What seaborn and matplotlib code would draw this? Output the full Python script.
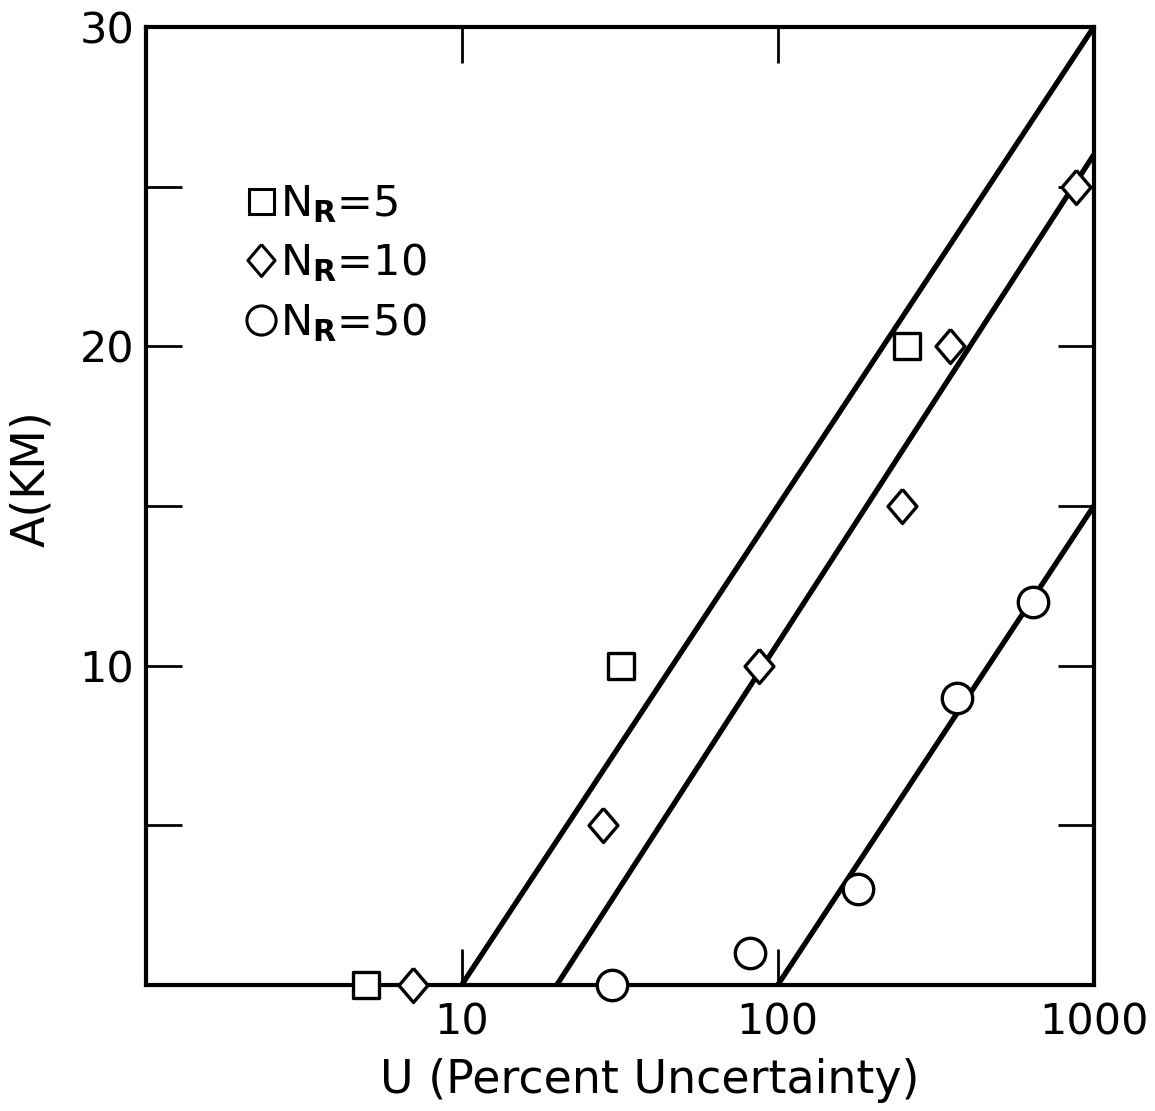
import numpy as np
import pandas as pd
import matplotlib
matplotlib.use("Agg")
import matplotlib.pyplot as plt
from matplotlib.lines import Line2D
import seaborn as sns

# Observed points: percent uncertainty U vs. distance A (km) for each N_R
u_nr5 = [5, 32, 256]
a_nr5 = [0, 10, 20]
u_nr10 = [7, 28, 87, 248, 350, 880]
a_nr10 = [0, 5, 10, 15, 20, 25]
u_nr50 = [30, 82, 180, 370, 640]
a_nr50 = [0, 1, 3, 9, 12]

# Fitted lines: A = 0 at u_start, rising to a_end at U = 1000
fit_groups = ["5", "10", "50"]
fit_u_start = [10, 20, 100]
fit_u_end = [1000, 1000, 1000]
fit_a_end = [30, 26, 15]

x_ticks = [10, 100, 1000]
x_tick_labels = ["10", "100", "1000"]
y_ticks = [5, 10, 15, 20, 25, 30]
y_tick_labels = ["", "10", "", "20", "", "30"]

sns.set_style("ticks")
plt.rcParams["font.family"] = ["DejaVu Sans"]
plt.rcParams.update({
    "text.color": "black",
    "axes.labelcolor": "black",
    "xtick.color": "black",
    "ytick.color": "black",
    "xtick.labelcolor": "black",
    "ytick.labelcolor": "black",
})

points = pd.DataFrame({
    "U": u_nr5 + u_nr10 + u_nr50,
    "A": a_nr5 + a_nr10 + a_nr50,
    "NR": ["5"] * len(u_nr5) + ["10"] * len(u_nr10) + ["50"] * len(u_nr50),
})

lines = pd.DataFrame({
    "U": [u for pair in zip(fit_u_start, fit_u_end) for u in pair],
    "A": [a for end in fit_a_end for a in (0, end)],
    "NR": [g for g in fit_groups for _ in range(2)],
})

diamond = [(0, 1), (0.85, 0), (0, -1), (-0.85, 0), (0, 1)]
marker_map = {"5": "s", "10": diamond, "50": "o"}
size_map = {"5": 330, "10": 600, "50": 480}

fig = plt.figure(figsize=(11.55, 11.11), dpi=100)
ax = fig.add_axes([0.126, 0.1134, 0.821, 0.8623])

sns.lineplot(data=lines, x="U", y="A", units="NR", estimator=None,
             color="black", lw=3.8, ax=ax, zorder=2, legend=False)

for grp in fit_groups:
    sub = points[points["NR"] == grp]
    sns.scatterplot(data=sub, x="U", y="A", marker=marker_map[grp],
                    s=size_map[grp], facecolor="white", edgecolor="black",
                    linewidth=2.4, ax=ax, zorder=4, legend=False, clip_on=False)

ax.set_xscale("log")
ax.set_xlim(1, 1000)
ax.set_ylim(0, 30)

ax.set_xticks(x_ticks)
ax.set_xticklabels(x_tick_labels)
ax.xaxis.set_minor_locator(matplotlib.ticker.NullLocator())
ax.set_yticks(y_ticks)
ax.set_yticklabels(y_tick_labels)

ax.tick_params(axis="both", which="major", direction="in", length=26, width=2,
               labelsize=31, top=True, right=True, color="black",
               labelcolor="black")
ax.tick_params(axis="x", pad=12)
ax.tick_params(axis="y", pad=8)
for side in ax.spines.values():
    side.set_linewidth(3)
    side.set_color("black")

ax.set_xlabel("U (Percent Uncertainty)", fontsize=33, color="black")
ax.set_ylabel("A(KM)", fontsize=33, color="black")
ax.xaxis.set_label_coords(0.532, -0.076)
ax.yaxis.set_label_coords(-0.096, 0.529)

handles = [
    Line2D([], [], ls="none", marker="s", ms=18, mfc="white", mec="black", mew=2.2),
    Line2D([], [], ls="none", marker=diamond, ms=23, mfc="white", mec="black", mew=2.2),
    Line2D([], [], ls="none", marker="o", ms=21, mfc="white", mec="black", mew=2.2),
]
labels = [r"N$_\mathbf{R}$=5", r"N$_\mathbf{R}$=10", r"N$_\mathbf{R}$=50"]
leg = ax.legend(handles, labels, loc="upper left", bbox_to_anchor=(0.09, 0.855),
                frameon=False, fontsize=31, handlelength=0.6, handletextpad=0.15,
                labelspacing=0.38, borderaxespad=0, labelcolor="black")

fig.savefig("out.png", dpi=100, facecolor="white")
